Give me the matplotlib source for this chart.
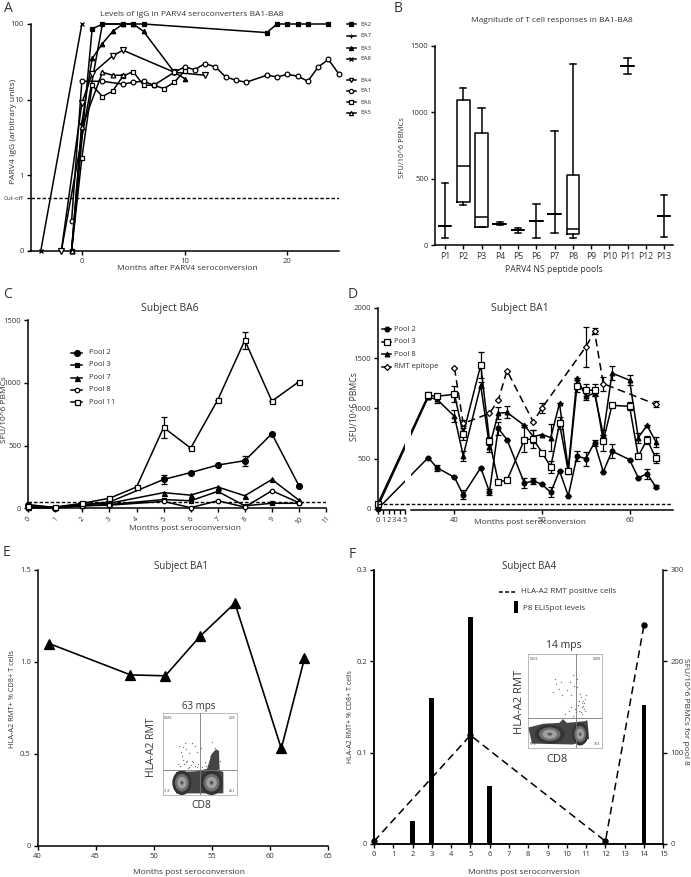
"""PARV4 figure, six panels A-F, all sizes worked out in reference pixels."""
import matplotlib
matplotlib.use("Agg")
import matplotlib.pyplot as plt
import numpy as np
from matplotlib.patches import Ellipse, Polygon

plt.rcParams["font.family"] = ["Open Sans", "DejaVu Sans"]
plt.rcParams["axes.linewidth"] = 1.1
plt.rcParams["text.color"] = "#333333"
plt.rcParams["xtick.labelcolor"] = "#333333"
plt.rcParams["ytick.labelcolor"] = "#333333"

W, H = 691, 877
CUTOFF = 0.5
THRESHOLD = 50

# panel A
ba2_x = [-1, 1, 2, 4, 5, 6, 18, 19, 20, 21, 22, 24]
ba2_y = [0.1, 86, 100, 100, 100, 100, 77, 100, 100, 100, 100, 100]
ba7_x = [-2, 2, 4, 5]
ba7_y = [0.1, 100, 100, 100]
ba3_x = [-1, 0, 1, 2, 3, 4, 5, 6, 9, 10]
ba3_y = [0.1, 5, 35, 55, 80, 100, 100, 80, 23, 19]
ba8_x = [-4, 0]
ba8_y = [0.1, 100]
ba4_x = [-2, 0, 1, 3, 4, 9, 12]
ba4_y = [0.1, 9, 22, 38, 45, 23, 21]
ba1_x = [-1, 0, 2, 4, 5, 6, 7, 9, 10, 11, 12, 13, 14, 15, 16, 18, 19, 20, 21, 22, 23, 24, 25]
ba1_y = [0.25, 17.5, 17.5, 16, 17, 17.5, 15.5, 23, 27, 25, 30, 27, 20, 18, 17, 21, 20, 21.5, 20.5, 17.5, 27, 34, 22]
ba6_x = [-1, 0, 1, 2, 3, 4, 5, 6, 7, 8, 9, 10]
ba6_y = [0.1, 1.7, 15.5, 11, 13, 20.5, 23.5, 15.5, 15.5, 14, 17, 24]
ba5_x = [-1, 0, 2, 3, 4]
ba5_y = [0.1, 4.3, 23, 21, 21]

# panel B: low whisker, q1, median, q3, high whisker
pool_names = ["P1", "P2", "P3", "P4", "P5", "P6", "P7", "P8", "P9", "P10", "P11", "P12", "P13"]
pool_low = [53, 300, 135, 150, 90, 55, 90, 55, None, None, 1285, None, 60]
pool_q1 = [143, 320, 135, 160, 110, 180, 235, 80, None, None, 1345, None, 220]
pool_med = [143, 595, 210, 160, 110, 180, 235, 120, None, None, 1345, None, 220]
pool_q3 = [143, 1090, 840, 160, 110, 180, 235, 525, None, None, 1345, None, 220]
pool_high = [469, 1185, 1030, 170, 130, 310, 855, 1360, None, None, 1405, None, 380]

# panel C
c_months = [0, 1, 2, 3, 5, 6, 7, 8, 9, 10]
c_pool2 = [30, 5, 30, 50, 230, 285, 345, 380, 595, 180]
c_pool2_err = [0, 0, 0, 0, 35, 0, 0, 40, 0, 0]
c_pool3 = [5, 5, 20, 30, 70, 60, 135, 20, 40, 40]
c_pool7 = [10, 10, 30, 40, 125, 105, 170, 100, 230, 65]
c_pool8 = [5, 5, 20, 25, 55, 5, 60, 10, 140, 45]
c_pool11_months = [0, 1, 2, 3, 4, 5, 6, 7, 8, 9, 10]
c_pool11 = [20, 10, 40, 80, 170, 645, 480, 865, 1340, 855, 1010]
c_pool11_err = [0, 0, 0, 0, 0, 85, 0, 0, 65, 0, 0]

# panel D
d_months = [0, 37, 38, 40, 41, 43, 44, 45, 46, 48, 49, 50, 51, 52, 53, 54, 55, 56, 57, 58, 60, 61, 62, 63]
d_pool2 = [0, 510, 410, 315, 140, 410, 170, 800, 690, 255, 280, 245, 165, 380, 130, 525, 500, 660, 370, 575, 490, 310, 350, 220]
d_pool2_err = [0, 0, 30, 0, 45, 0, 30, 60, 0, 50, 30, 0, 50, 0, 0, 50, 70, 30, 0, 70, 0, 0, 50, 15]
d_pool3 = [50, 1130, 1120, 1140, 745, 1430, 680, 270, 285, 690, 695, 560, 420, 850, 375, 1220, 1180, 1180, 680, 1030, 1020, 525, 690, 505]
d_pool3_err = [0, 30, 20, 80, 60, 130, 40, 20, 20, 120, 90, 20, 60, 60, 30, 60, 60, 60, 100, 0, 40, 20, 40, 50]
d_pool8 = [20, 1110, 1090, 920, 530, 1230, 620, 950, 960, 830, 720, 740, 710, 1050, 400, 1300, 1120, 1150, 740, 1350, 1280, 710, 830, 670]
d_pool8_err = [0, 20, 40, 60, 50, 30, 50, 60, 60, 0, 60, 0, 130, 0, 0, 0, 40, 30, 0, 70, 50, 50, 0, 50]
d_rmt_months = [40, 41, 44, 45, 46, 49, 50, 55, 56, 57, 63]
d_rmt = [1400, 850, 950, 1080, 1375, 865, 1005, 1610, 1765, 1245, 1040]
d_rmt_err = [0, 30, 0, 0, 0, 0, 50, 200, 30, 70, 30]

# panel E
e_months = [41, 48, 51, 54, 57, 61, 63]
e_rmt = [1.1, 0.93, 0.925, 1.14, 1.32, 0.53, 1.02]

# panel F
f_months = [0, 5, 12, 14]
f_rmt = [0.003, 0.119, 0.003, 0.24]
f_bar_months = [2, 3, 5, 6, 14]
f_bar_sfu = [25, 160, 248, 64, 152]

e_specks_x = [.20, .26, .31, .35, .39, .30, .47, .58, .64, .70, .72, .78, .28, .36, .22, .44, .52, .66, .75, .33,
              .25, .40, .24, .29, .34, .38, .43, .48, .53, .57, .62, .27, .32, .41, .46, .58]
e_specks_y = [.62, .52, .44, .66, .58, .36, .47, .70, .52, .42, .76, .58, .41, .49, .40, .40, .42, .35, .68, .58,
              .47, .36, .64, .62, .67, .63, .65, .62, .66, .60, .62, .57, .60, .60, .66, .64]
f_specks_x = [.34, .38, .30, .44, .52, .58, .62, .70, .74, .66, .72, .46, .56, .64, .78, .60, .36, .42, .68, .77,
              .75, .71, .73, .66, .50, .55, .60, .65, .69, .74, .76, .72, .78, .58, .63, .67, .71, .75]
f_specks_y = [.40, .32, .84, .30, .38, .44, .34, .42, .50, .35, .56, .44, .30, .30, .70, .22, .26, .37, .50, .60,
              .52, .46, .64, .26, .64, .60, .66, .62, .60, .55, .48, .52, .44, .56, .58, .54, .62, .58]


def add_panel(left, top, right, bottom):
    """新建子图，位置按参考图像素给出。"""
    ax = fig.add_axes([left / W, 1 - bottom / H, (right - left) / W, (bottom - top) / H])
    ax.spines[["top", "right"]].set_visible(False)
    ax.tick_params(length=3, width=1, pad=2, labelsize=5.5)
    ax.patch.set_alpha(0)
    return ax


def draw_series(ax, x, y, marker, filled=True, ms=3.5, err=None, lw=1.1, ls="-", zorder=3):
    face = "black" if filled else "white"
    ax.errorbar(x, y, yerr=err, color="black", lw=lw, ls=ls, marker=marker, ms=ms, mfc=face, mec="black",
                mew=0.9, ecolor="black", elinewidth=0.9, capsize=2, capthick=0.9, clip_on=False, zorder=zorder)


def legend_row(x, y, half, text, marker, text_x, filled=True, ms=3.5, size=5.5):
    page.plot([x - half, x + half], [y, y], color="black", lw=1.1)
    page.plot([x], [y], marker=marker, ms=ms, mfc="black" if filled else "white", mec="black", mew=0.9, color="black")
    page.text(text_x, y, text, va="center", ha="left", fontsize=size)


def flow_inset(left, top, right, bottom, cross_x, cross_y, blobs, cloud, specks_x, specks_y, corners):
    """流式小图：灰度同心椭圆加少量散点。"""
    ax = fig.add_axes([left / W, 1 - bottom / H, (right - left) / W, (bottom - top) / H])
    ax.set_xlim(0, 1)
    ax.set_ylim(1, 0)
    ax.set_xticks([])
    ax.set_yticks([])
    for side in ax.spines.values():
        side.set_linewidth(0.4)
        side.set_color("#888888")
    ax.add_patch(Polygon(cloud, closed=True, color="#454545", lw=0, zorder=1))
    ax.scatter(specks_x, specks_y, s=0.9, color="#777777", lw=0, zorder=1)
    for cx, cy, w, h in blobs:
        for scale, shade in [(1.0, "#333333"), (0.72, "#6e6e6e"), (0.48, "#a0a0a0"), (0.16, "#5a5a5a")]:
            ax.add_patch(Ellipse((cx, cy), w * scale, h * scale, color=shade, lw=0, zorder=2))
    ax.axvline(cross_x, color="#777777", lw=0.6, zorder=3)
    ax.axhline(cross_y, color="#777777", lw=0.6, zorder=3)
    ax.text(0.02, 0.03, corners[0], fontsize=2.3, va="top")
    ax.text(0.98, 0.03, corners[1], fontsize=2.3, va="top", ha="right")
    ax.text(0.02, 0.98, corners[2], fontsize=2.3, va="bottom")
    ax.text(0.98, 0.98, corners[3], fontsize=2.3, va="bottom", ha="right")


fig = plt.figure(figsize=(W / 100, H / 100), dpi=100)

# A ---------------------------------------------------------------
ax_a = add_panel(30.5, 24, 338.7, 250.9)
ax_a.set_yscale("log")
ax_a.set_xlim(-5, 25)
ax_a.set_ylim(0.1, 100)
ax_a.axhline(CUTOFF, color="black", lw=1, ls=(0, (2.5, 1.5)), zorder=2)
draw_series(ax_a, ba2_x, ba2_y, "s", ms=2.6)
draw_series(ax_a, ba7_x, ba7_y, "+", ms=3)
draw_series(ax_a, ba3_x, ba3_y, "^", ms=3.2)
draw_series(ax_a, ba8_x, ba8_y, "x", ms=3)
draw_series(ax_a, ba4_x, ba4_y, "v", filled=False, ms=3.8)
draw_series(ax_a, ba1_x, ba1_y, "o", filled=False, ms=3.4)
draw_series(ax_a, ba6_x, ba6_y, "s", filled=False, ms=3.4)
draw_series(ax_a, ba5_x, ba5_y, "^", filled=False, ms=3.4)
ax_a.set_xticks([0, 10, 20])
ax_a.set_yticks([0.1, CUTOFF, 1, 10, 100])
ax_a.set_yticklabels(["0", "Cut-off", "1", "10", "100"])
ax_a.minorticks_off()
ax_a.get_yticklabels()[1].set_fontsize(4.5)

# B ---------------------------------------------------------------
ax_b = add_panel(435.3, 45.7, 673.3, 245)
stats = []
for i, name in enumerate(pool_names):
    if pool_med[i] is not None:
        stats.append({"whislo": pool_low[i], "q1": pool_q1[i], "med": pool_med[i], "q3": pool_q3[i],
                      "whishi": pool_high[i], "fliers": [], "label": name})
positions = [i + 1 for i, v in enumerate(pool_med) if v is not None]
line_style = {"color": "black", "linewidth": 1.1}
ax_b.bxp(stats, positions=positions, widths=0.69, showfliers=False, boxprops=line_style, medianprops=line_style,
         whiskerprops=line_style, capprops=line_style, capwidths=0.35)
ax_b.set_xlim(0.47, 13.5)
ax_b.set_ylim(0, 1500)
ax_b.set_xticks(range(1, 14))
ax_b.set_xticklabels(pool_names, fontsize=6.2)
ax_b.set_yticks([0, 500, 1000, 1500])

# C ---------------------------------------------------------------
ax_c = add_panel(28.3, 320.3, 326, 508.3)
ax_c.set_xlim(0, 11)
ax_c.set_ylim(0, 1500)
ax_c.axhline(THRESHOLD, color="black", lw=1, ls=(0, (2.5, 1.5)), zorder=2)
draw_series(ax_c, c_months, c_pool2, "o", err=c_pool2_err, ms=4.2)
draw_series(ax_c, c_months, c_pool3, "s", ms=2.8)
draw_series(ax_c, c_months, c_pool7, "^", ms=3.6)
draw_series(ax_c, c_months, c_pool8, "o", filled=False, ms=3.2)
draw_series(ax_c, c_pool11_months, c_pool11, "s", filled=False, err=c_pool11_err, ms=3.6)
ax_c.set_xticks(range(12))
ax_c.set_xticklabels(range(12), rotation=45, fontsize=5)
ax_c.set_yticks([0, 500, 1000, 1500])

# D: the x axis jumps from month 5 to month 35
axis_months = [0, 5, 35, 65]
axis_pos = [0, 27.3, 33, 295.6]


def months_to_pos(v):
    return np.interp(v, axis_months, axis_pos)


def pos_to_months(v):
    return np.interp(v, axis_pos, axis_months)


ax_d = add_panel(377.7, 307.7, 673.3, 510)
ax_d.set_xscale("function", functions=(months_to_pos, pos_to_months))
ax_d.set_xlim(0, 65)
ax_d.set_ylim(-10, 2000)
ax_d.spines["bottom"].set_visible(False)
draw_series(ax_d, d_months, d_pool2, "o", err=d_pool2_err, ms=3.4, zorder=2)
draw_series(ax_d, d_months, d_pool8, "^", err=d_pool8_err, ms=3.4, zorder=2)
draw_series(ax_d, d_months, d_pool3, "s", filled=False, err=d_pool3_err, ms=4.2, zorder=2)
draw_series(ax_d, d_rmt_months, d_rmt, "D", filled=False, err=d_rmt_err, ms=3, ls=(0, (5, 3)), zorder=2)
ax_d.axvspan(5, 35, color="white", lw=0, zorder=2.5)
ax_d.axhline(THRESHOLD, color="black", lw=1, ls=(0, (2.5, 1.5)), zorder=2.6)
for start, end in [(0, 5), (35, 65)]:
    ax_d.plot([start, end], [-10, -10], color="black", lw=1.1, clip_on=False, zorder=3)
ax_d.set_xticks([0, 1, 2, 3, 4, 5, 40, 50, 60])
ax_d.minorticks_off()
ax_d.set_yticks([0, 500, 1000, 1500, 2000])

# E ---------------------------------------------------------------
ax_e = add_panel(37.7, 570, 327.7, 846)
ax_e.set_xlim(40, 65)
ax_e.set_ylim(0, 1.5)
draw_series(ax_e, e_months, e_rmt, "^", ms=6.5, lw=1.2)
ax_e.set_xticks(range(40, 66, 5))
ax_e.set_yticks([0, 0.5, 1.0, 1.5])
ax_e.set_yticklabels(["0", "0.5", "1.0", "1.5"])

# F ---------------------------------------------------------------
ax_f = add_panel(374, 570, 663.3, 844)
ax_f.set_xlim(0, 15)
ax_f.set_ylim(0, 0.3)
ax_f.set_xticks(range(16))
ax_f.set_yticks([0, 0.1, 0.2, 0.3])
ax_f.set_yticklabels(["0", "0.1", "0.2", "0.3"])
ax_sfu = ax_f.twinx()
ax_sfu.spines["top"].set_visible(False)
ax_sfu.set_ylim(0, 300)
ax_sfu.set_yticks([0, 100, 200, 300])
ax_sfu.tick_params(length=3, width=1, pad=2, labelsize=5.5)
ax_sfu.bar(f_bar_months, f_bar_sfu, width=0.25, color="black")
ax_sfu.errorbar(f_months, np.array(f_rmt) * 1000, color="black", lw=1.1, ls=(0, (5, 3)), marker="o", ms=3.6,
                clip_on=False, zorder=4)

# insets
flow_inset(162.7, 713.3, 236.7, 795, 0.51, 0.69,
           [(0.26, 0.85, 0.26, 0.30), (0.66, 0.85, 0.30, 0.30)],
           [(0.18, 0.72), (0.45, 0.71), (0.60, 0.68), (0.66, 0.50), (0.72, 0.44), (0.76, 0.46), (0.77, 0.70),
            (0.82, 0.72), (0.82, 0.98), (0.18, 0.98)],
           e_specks_x, e_specks_y, ["0.059", "0.28", "71.6", "28.1"])
flow_inset(528.3, 654, 602.3, 748.3, 0.645, 0.68,
           [(0.29, 0.85, 0.40, 0.20), (0.70, 0.85, 0.22, 0.24)],
           [(0.0, 0.78), (0.20, 0.74), (0.42, 0.73), (0.47, 0.69), (0.52, 0.73), (0.80, 0.71), (0.82, 0.90),
            (0.60, 0.96), (0.05, 0.95)],
           f_specks_x, f_specks_y, ["0.032", "0.082", "51.5", "38.5"])

# page layer for the free text and hand-placed legends
page = fig.add_axes([0, 0, 1, 1], zorder=10)
page.set_xlim(0, W)
page.set_ylim(H, 0)
page.axis("off")

for letter, x, y in [("A", 8, 8), ("B", 398, 8), ("C", 8, 294), ("D", 353, 294), ("E", 7, 553), ("F", 352, 555)]:
    page.text(x, y, letter, fontsize=10, ha="center", va="center")

titles = [
    (191.5, 14, "Levels of IgG in PARV4 seroconverters BA1-BA8", 6.0),
    (552, 20, "Magnitude of T cell responses in BA1-BA8", 6.05),
    (170, 309, "Subject BA6", 7.5),
    (520, 309, "Subject BA1", 7.5),
    (181, 567, "Subject BA1", 7),
    (529, 567, "Subject BA4", 7),
]
for x, y, text, size in titles:
    page.text(x, y, text, fontsize=size, ha="center", va="center")

xlabels = [
    (187.5, 269, "Months after PARV4 seroconversion", 6.0),
    (554, 269, "PARV4 NS peptide pools", 6.2),
    (185, 529, "Months post seroconversion", 6.0),
    (530, 522.5, "Months post seroconversion", 6.0),
    (189, 872, "Months post seroconversion", 6.0),
    (524, 872, "Months post seroconversion", 6.0),
]
for x, y, text, size in xlabels:
    page.text(x, y, text, fontsize=size, ha="center", va="center")

ylabels = [
    (14, 131, "PARV4 IgG (arbitrary units)", 6.1, 90),
    (403, 148, "SFU/10^6 PBMCs", 5.5, 90),
    (4.5, 410, "SFU/10^6 PBMCs", 6.0, 90),
    (354.5, 407, "SFU/10^6 PBMCs", 6.2, 90),
    (12.5, 698.5, "HLA-A2 RMT+ % CD8+ T cells", 5.3, 90),
    (351, 716.5, "HLA-A2 RMT+ % CD8+ T cells", 5.0, 90),
    (686, 711.5, "SFU/10^6 PBMCs for pool 8", 6.0, 270),
]
for x, y, text, size, angle in ylabels:
    page.text(x, y, text, fontsize=size, rotation=angle, ha="center", va="center")

legend_a = [(24, "BA2", "s", True), (35.7, "BA7", "+", True), (48, "BA3", "^", True), (59, "BA8", "x", True),
            (80, "BA4", "v", False), (91, "BA1", "o", False), (102, "BA6", "s", False), (113, "BA5", "^", False)]
for y, text, marker, filled in legend_a:
    legend_row(351.5, y, 4.5, text, marker, 360, filled=filled, ms=3, size=4.2)

legend_c = [(352.7, "Pool 2", "o", True, 4.2), (365, "Pool 3", "s", True, 2.8), (377.7, "Pool 7", "^", True, 3.6),
            (389.7, "Pool 8", "o", False, 3.2), (402, "Pool 11", "s", False, 3.6)]
for y, text, marker, filled, ms in legend_c:
    legend_row(76.7, y, 5.5, text, marker, 89.5, filled=filled, ms=ms, size=5.5)

legend_d = [(329.3, "Pool 2", "o", True, 3.4), (341.7, "Pool 3", "s", False, 4.2), (354, "Pool 8", "^", True, 3.4),
            (366.7, "RMT epitope", "D", False, 3)]
for y, text, marker, filled, ms in legend_d:
    legend_row(386.7, y, 4.5, text, marker, 394, filled=filled, ms=ms, size=5.5)

page.plot([499, 515.7], [591.7, 591.7], color="black", lw=1.1, ls=(0, (2.5, 1.5)))
page.text(520.7, 591.7, "HLA-A2 RMT positive cells", fontsize=5.8, va="center")
page.add_patch(plt.Rectangle((514, 601), 4, 11.5, color="black", lw=0))
page.text(522.7, 608, "P8 ELISpot levels", fontsize=5.8, va="center")

inset_text = [
    (199, 706, "63 mps", 7, 0),
    (151.7, 747, "HLA-A2 RMT", 7.5, 90),
    (201, 805, "CD8", 7.5, 0),
    (563.7, 645.7, "14 mps", 7.5, 0),
    (519.3, 702, "HLA-A2 RMT", 8, 90),
    (557, 760, "CD8", 8, 0),
]
for x, y, text, size, angle in inset_text:
    page.text(x, y, text, fontsize=size, rotation=angle, ha="center", va="center")

fig.savefig("out.png", dpi=100)
plt.close(fig)
